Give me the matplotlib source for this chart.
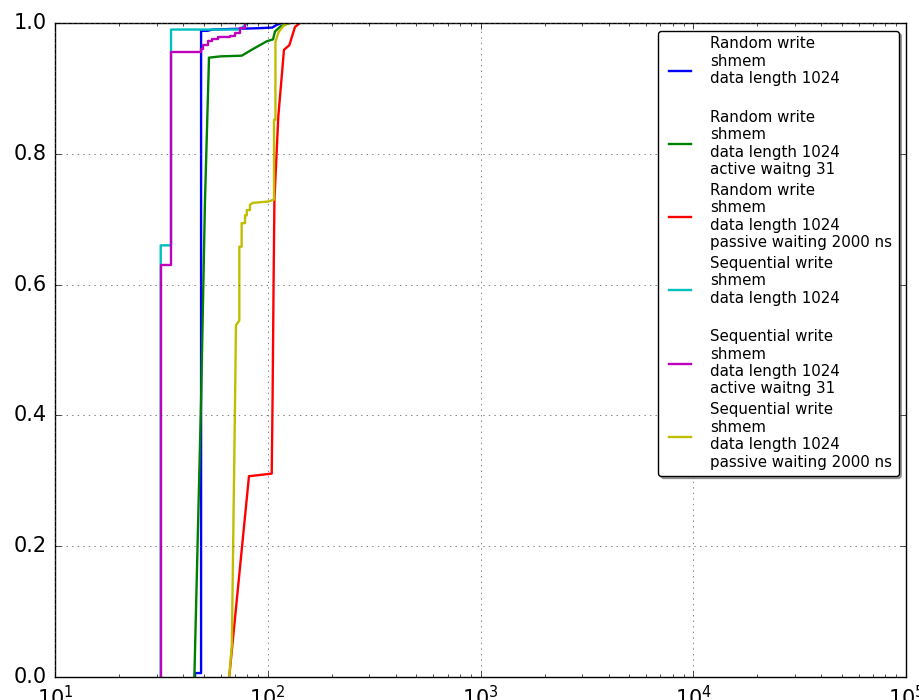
import matplotlib
matplotlib.use("Agg")
import matplotlib.pyplot as plt

plt.style.use("classic")

# latency CDF samples (x in ns, y = fraction)
rnd_x = [45.5, 45.5, 48.6, 48.6, 52, 55, 70, 90, 105, 110, 116]
rnd_y = [0.0, 0.006, 0.006, 0.988, 0.988, 0.99, 0.991, 0.992, 0.993, 0.997, 1.0]

rnd_act_x = [45.2, 48.6, 50.7, 52.9, 52.9, 60, 75.4, 85, 98.9, 105.9, 108.1, 115, 127]
rnd_act_y = [0.0, 0.424, 0.729, 0.942, 0.947, 0.949, 0.95, 0.96, 0.972, 0.975, 0.987, 0.995, 1.0]

rnd_pas_x = [65.9, 81.6, 104.4, 105.4, 106.5, 107.5, 112.1, 119.2, 126.3, 134.3, 141.8]
rnd_pas_y = [0.0, 0.307, 0.311, 0.43, 0.6, 0.73, 0.857, 0.959, 0.966, 0.994, 1.0]

seq_x = [31.4, 31.4, 35.1, 35.1, 74.1, 80]
seq_y = [0.0, 0.66, 0.66, 0.99, 0.99, 1.0]

seq_act_x = [31.4, 31.4, 35.1, 35.1, 48.6, 48.6, 49.5, 49.5, 52.6, 52.6, 54.5, 54.5,
             58.6, 58.6, 66.5, 66.5, 70.2, 70.2, 74.1, 74.1, 78.2, 78.2]
seq_act_y = [0.0, 0.63, 0.63, 0.955, 0.955, 0.961, 0.961, 0.967, 0.967, 0.972, 0.972, 0.975,
             0.975, 0.978, 0.978, 0.98, 0.98, 0.984, 0.984, 0.992, 0.992, 1.0]

seq_pas_x = [65.9, 67.8, 70.2, 70.9, 73.5, 73.5, 75.4, 75.4, 78.2, 78.2, 79.7, 79.7,
             82.5, 82.5, 85.0, 100.6, 107.0, 107.0, 108.7, 108.7, 112.4, 120.2, 127.2]
seq_pas_y = [0.0, 0.049, 0.424, 0.538, 0.545, 0.658, 0.658, 0.694, 0.694, 0.706, 0.706, 0.714,
             0.714, 0.722, 0.725, 0.727, 0.73, 0.852, 0.852, 0.971, 0.986, 0.998, 1.0]

labels = [
    "Random write\nshmem\ndata length 1024\n",
    "Random write\nshmem\ndata length 1024\nactive waitng 31",
    "Random write\nshmem\ndata length 1024\npassive waiting 2000 ns",
    "Sequential write\nshmem\ndata length 1024\n",
    "Sequential write\nshmem\ndata length 1024\nactive waitng 31",
    "Sequential write\nshmem\ndata length 1024\npassive waiting 2000 ns",
]
series = [(rnd_x, rnd_y), (rnd_act_x, rnd_act_y), (rnd_pas_x, rnd_pas_y),
          (seq_x, seq_y), (seq_act_x, seq_act_y), (seq_pas_x, seq_pas_y)]
colors = ["b", "g", "r", "c", "m", "y"]

fig = plt.figure(figsize=(9.2, 7), dpi=100, facecolor="white")
ax = fig.add_axes([55 / 920, 23 / 700, 851 / 920, 654 / 700])

for (x, y), c, lab in zip(series, colors, labels):
    ax.semilogx(x, y, color=c, lw=1.7, label=lab)

ax.set_xlim(10, 1e5)
ax.set_ylim(0, 1)
ax.set_yticks([0.0, 0.2, 0.4, 0.6, 0.8, 1.0])
ax.grid(True, linestyle=":", color="0.3")
ax.tick_params(labelsize=15, pad=6)

ax.legend(loc="upper right", fontsize=10.8, shadow=True, fancybox=True,
          handlelength=2.1, handletextpad=1.0, labelspacing=0.4)

fig.savefig("out.png", dpi=100, facecolor="white")
